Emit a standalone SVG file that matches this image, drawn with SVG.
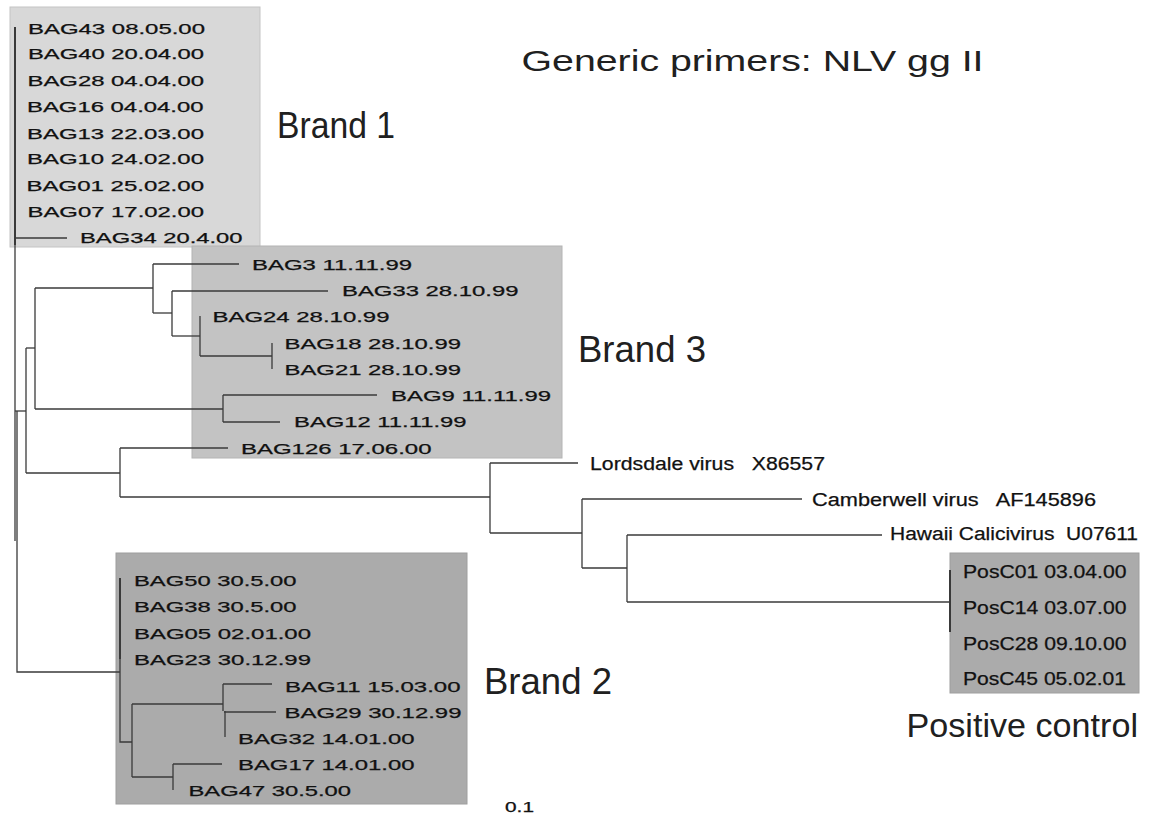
<svg xmlns="http://www.w3.org/2000/svg" width="1149" height="814" viewBox="0 0 1149 814">
<style>
.bg{fill:#ffffff}
.b1{fill:#d8d8d8;stroke:#c4c4c4;stroke-width:1}
.b3{fill:#c3c3c3;stroke:#b4b4b4;stroke-width:1}
.b2{fill:#ababab;stroke:#9e9e9e;stroke-width:1}
.lf{font-family:"Liberation Sans",Arial,sans-serif;fill:#111111;stroke:#111111;stroke-width:0.25}
.s13{font-size:14px}
.s14{font-size:14.5px}
.s18{font-size:18px}
.big{font-family:"Liberation Sans",Arial,sans-serif;fill:#202020;font-weight:normal}
.ln{fill:none;stroke:#3a3a3a;stroke-width:1.3}
.th{fill:none;stroke:#3a3a3a;stroke-width:2}
</style>
<rect class="bg" x="0" y="0" width="1149" height="814"/>

<g id="boxes">
<rect id="box-brand1" class="b1" x="10" y="7" width="250" height="240"/>
<rect id="box-brand3" class="b3" x="192" y="246" width="370" height="212"/>
<rect id="box-brand2" class="b2" x="116" y="553" width="351" height="251"/>
<rect id="box-posc" class="b2" x="950" y="553" width="189" height="140"/>
</g>

<g id="connectors">
<path class="th" d="M15,27 V245"/>
<path class="ln" d="M15,245 V541"/>
<path class="ln" d="M15,238 H67"/>
<path class="ln" d="M17,411 V672 H120"/>
<path class="ln" d="M15,411 H26"/>
<path class="ln" d="M26,348 V473"/>
<path class="ln" d="M26,348 H35"/>
<path class="ln" d="M35,288 V409"/>
<path class="ln" d="M35,288 H153"/>
<path class="ln" d="M153,264 V313"/>
<path class="ln" d="M153,264 H239"/>
<path class="ln" d="M153,313 H172"/>
<path class="ln" d="M172,291 V336"/>
<path class="ln" d="M172,291 H328"/>
<path class="ln" d="M172,336 H200"/>
<path class="ln" d="M200,316 V356"/>
<path class="ln" d="M200,356 H272"/>
<path class="ln" d="M272,343 V369"/>
<path class="ln" d="M35,409 H223"/>
<path class="ln" d="M223,395 V422"/>
<path class="ln" d="M223,395 H377"/>
<path class="ln" d="M223,422 H280"/>
<path class="ln" d="M26,473 H120"/>
<path class="ln" d="M120,448 V497"/>
<path class="ln" d="M120,448 H228"/>
<path class="ln" d="M120,497 H490"/>
<path class="ln" d="M490,463 V533"/>
<path class="ln" d="M490,463 H578"/>
<path class="ln" d="M490,533 H582"/>
<path class="ln" d="M582,499 V568"/>
<path class="ln" d="M582,499 H802"/>
<path class="ln" d="M582,568 H627"/>
<path class="ln" d="M627,535 V602"/>
<path class="ln" d="M627,535 H882"/>
<path class="ln" d="M627,602 H950"/>
<path class="th" d="M950,570 V632"/>
<path class="th" d="M120,578 V659"/>
<path class="ln" d="M120,659 V742 H132"/>
<path class="ln" d="M132,704 V777"/>
<path class="ln" d="M132,704 H223"/>
<path class="ln" d="M223,684 V711"/>
<path class="ln" d="M225,711 V737"/>
<path class="ln" d="M223,684 H272"/>
<path class="ln" d="M224,712 H276"/>
<path class="ln" d="M132,777 H173"/>
<path class="ln" d="M173,764 V790"/>
<path class="ln" d="M173,764 H222"/>
</g>

<g id="brand1">
<g id="n-bag43"><text class="lf s13" x="28" y="33.5" textLength="177" lengthAdjust="spacingAndGlyphs">BAG43 08.05.00</text></g>
<g id="n-bag40"><text class="lf s13" x="28" y="59" textLength="176" lengthAdjust="spacingAndGlyphs">BAG40 20.04.00</text></g>
<g id="n-bag28"><text class="lf s13" x="27.5" y="85.5" textLength="176.5" lengthAdjust="spacingAndGlyphs">BAG28 04.04.00</text></g>
<g id="n-bag16"><text class="lf s13" x="27" y="112" textLength="176.5" lengthAdjust="spacingAndGlyphs">BAG16 04.04.00</text></g>
<g id="n-bag13"><text class="lf s13" x="27" y="138.5" textLength="177" lengthAdjust="spacingAndGlyphs">BAG13 22.03.00</text></g>
<g id="n-bag10"><text class="lf s13" x="27" y="164" textLength="177" lengthAdjust="spacingAndGlyphs">BAG10 24.02.00</text></g>
<g id="n-bag01"><text class="lf s13" x="26.5" y="190.5" textLength="177.5" lengthAdjust="spacingAndGlyphs">BAG01 25.02.00</text></g>
<g id="n-bag07"><text class="lf s13" x="27.5" y="216.5" textLength="176.5" lengthAdjust="spacingAndGlyphs">BAG07 17.02.00</text></g>
<g id="n-bag34"><text class="lf s13" x="80" y="243" textLength="162.5" lengthAdjust="spacingAndGlyphs">BAG34 20.4.00</text></g>
</g>

<g id="brand3">
<g id="n-bag3"><text class="lf s14" x="252" y="269.5" textLength="160" lengthAdjust="spacingAndGlyphs">BAG3 11.11.99</text></g>
<g id="n-bag33"><text class="lf s14" x="342" y="296" textLength="176.5" lengthAdjust="spacingAndGlyphs">BAG33 28.10.99</text></g>
<g id="n-bag24"><text class="lf s14" x="212.5" y="322" textLength="177" lengthAdjust="spacingAndGlyphs">BAG24 28.10.99</text></g>
<g id="n-bag18"><text class="lf s14" x="284.5" y="348.5" textLength="176.5" lengthAdjust="spacingAndGlyphs">BAG18 28.10.99</text></g>
<g id="n-bag21"><text class="lf s14" x="284.5" y="374.5" textLength="176.5" lengthAdjust="spacingAndGlyphs">BAG21 28.10.99</text></g>
<g id="n-bag9"><text class="lf s14" x="391" y="400.5" textLength="160" lengthAdjust="spacingAndGlyphs">BAG9 11.11.99</text></g>
<g id="n-bag12"><text class="lf s14" x="294" y="427" textLength="172.5" lengthAdjust="spacingAndGlyphs">BAG12 11.11.99</text></g>
<g id="n-bag126"><text class="lf s14" x="241" y="453.5" textLength="190.5" lengthAdjust="spacingAndGlyphs">BAG126 17.06.00</text></g>
</g>

<g id="brand2">
<g id="n-bag50"><text class="lf s14" x="134" y="585.5" textLength="162.5" lengthAdjust="spacingAndGlyphs">BAG50 30.5.00</text></g>
<g id="n-bag38"><text class="lf s14" x="134" y="612" textLength="162.5" lengthAdjust="spacingAndGlyphs">BAG38 30.5.00</text></g>
<g id="n-bag05"><text class="lf s14" x="134" y="638.5" textLength="177" lengthAdjust="spacingAndGlyphs">BAG05 02.01.00</text></g>
<g id="n-bag23"><text class="lf s14" x="134" y="664.5" textLength="177" lengthAdjust="spacingAndGlyphs">BAG23 30.12.99</text></g>
<g id="n-bag11"><text class="lf s14" x="285" y="691.5" textLength="175.5" lengthAdjust="spacingAndGlyphs">BAG11 15.03.00</text></g>
<g id="n-bag29"><text class="lf s14" x="284.5" y="717.5" textLength="177" lengthAdjust="spacingAndGlyphs">BAG29 30.12.99</text></g>
<g id="n-bag32"><text class="lf s14" x="238" y="743.5" textLength="176.5" lengthAdjust="spacingAndGlyphs">BAG32 14.01.00</text></g>
<g id="n-bag17"><text class="lf s14" x="238" y="769.5" textLength="176.5" lengthAdjust="spacingAndGlyphs">BAG17 14.01.00</text></g>
<g id="n-bag47"><text class="lf s14" x="188.5" y="795.5" textLength="162.5" lengthAdjust="spacingAndGlyphs">BAG47 30.5.00</text></g>
</g>

<g id="viruses">
<g id="n-lordsdale"><text class="lf s18" x="590" y="469.5" textLength="235" lengthAdjust="spacingAndGlyphs" xml:space="preserve">Lordsdale virus   X86557</text></g>
<g id="n-camberwell"><text class="lf s18" x="812" y="505.5" textLength="284" lengthAdjust="spacingAndGlyphs" xml:space="preserve">Camberwell virus   AF145896</text></g>
<g id="n-hawaii"><text class="lf s18" x="890" y="539.5" textLength="248" lengthAdjust="spacingAndGlyphs" xml:space="preserve">Hawaii Calicivirus  U07611</text></g>
</g>

<g id="posc">
<g id="n-posc01"><text class="lf s18" x="963" y="577.5" textLength="163.5" lengthAdjust="spacingAndGlyphs">PosC01 03.04.00</text></g>
<g id="n-posc14"><text class="lf s18" x="963" y="613.5" textLength="163.5" lengthAdjust="spacingAndGlyphs">PosC14 03.07.00</text></g>
<g id="n-posc28"><text class="lf s18" x="963" y="649.5" textLength="163.5" lengthAdjust="spacingAndGlyphs">PosC28 09.10.00</text></g>
<g id="n-posc45"><text class="lf s18" x="963" y="684.5" textLength="163" lengthAdjust="spacingAndGlyphs">PosC45 05.02.01</text></g>
</g>

<g id="titles">
<text id="title" class="big" x="521.5" y="71" font-size="30" textLength="462" lengthAdjust="spacingAndGlyphs">Generic primers: NLV gg II</text>
<text id="lbl-brand1" class="big" x="277" y="137.5" font-size="36" textLength="118" lengthAdjust="spacingAndGlyphs">Brand 1</text>
<text id="lbl-brand3" class="big" x="578" y="362" font-size="36" textLength="128" lengthAdjust="spacingAndGlyphs">Brand 3</text>
<text id="lbl-brand2" class="big" x="484" y="693.5" font-size="36" textLength="128" lengthAdjust="spacingAndGlyphs">Brand 2</text>
<text id="lbl-posctrl" class="big" x="906.5" y="737" font-size="33" textLength="231.5" lengthAdjust="spacingAndGlyphs">Positive control</text>
<text id="scale" class="lf" x="505" y="812" font-size="14" textLength="29" lengthAdjust="spacingAndGlyphs">0.1</text>
</g>
</svg>
